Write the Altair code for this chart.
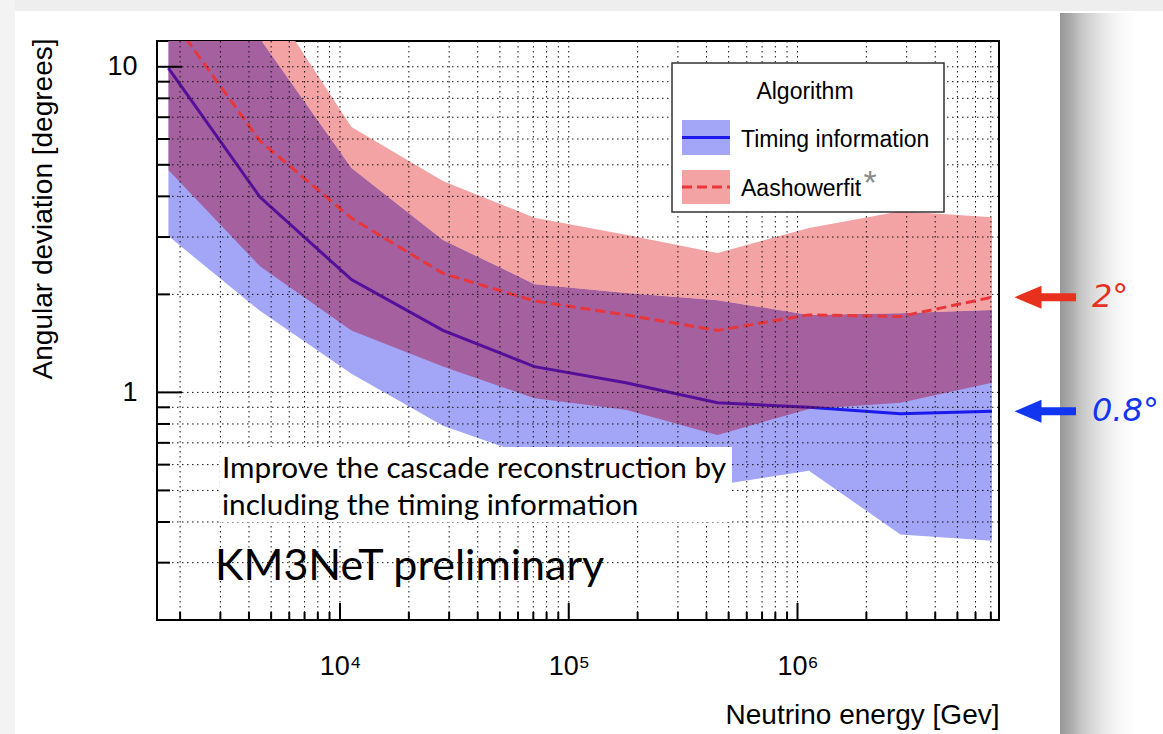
import altair as alt
import pandas as pd

# ---------------------------------------------------------------- data
energy_gev = [1778, 4467, 11220, 28180, 70790, 177800, 446700, 1122000, 2818000, 7079000]

timing_median = [9.9, 3.98, 2.22, 1.55, 1.20, 1.07, 0.93, 0.90, 0.86, 0.875]
timing_low = [3.02, 1.78, 1.14, 0.79, 0.63, 0.58, 0.52, 0.575, 0.366, 0.35]
timing_high = [25.0, 12.2, 4.89, 2.94, 2.15, 2.02, 1.92, 1.73, 1.75, 1.79]

aash_median = [14.5, 5.92, 3.43, 2.32, 1.91, 1.73, 1.55, 1.73, 1.71, 1.96]
aash_low = [4.82, 2.44, 1.55, 1.20, 0.96, 0.885, 0.74, 0.89, 0.93, 1.07]
aash_high = [35.0, 17.6, 6.53, 4.46, 3.44, 3.05, 2.68, 3.20, 3.60, 3.45]

series_names = ["Timing information", "Aashowerfit"]
legend_title = "Algorithm"

x_major_ticks = [1e4, 1e5, 1e6]
x_major_labels = ["10\u2074", "10\u2075", "10\u2076"]
x_minor_ticks = [2e3, 3e3, 4e3, 5e3, 6e3, 7e3, 8e3, 9e3,
                 2e4, 3e4, 4e4, 5e4, 6e4, 7e4, 8e4, 9e4,
                 2e5, 3e5, 4e5, 5e5, 6e5, 7e5, 8e5, 9e5,
                 2e6, 3e6, 4e6, 5e6, 6e6, 7e6]
y_major_ticks = [1, 10]
y_major_labels = ["1", "10"]
y_minor_ticks = [0.3, 0.4, 0.5, 0.6, 0.7, 0.8, 0.9, 2, 3, 4, 5, 6, 7, 8, 9]

annotation_labels = ["2\u00b0", "0.8\u00b0"]
note_lines = ["Improve the cascade reconstruction by",
              "including the timing information"]
watermark = "KM3NeT preliminary"

# ---------------------------------------------------------------- style
W, H = 842, 579
BLUE_BAND = "#a3a5f6"
BLUE_LINE = "#1a1aee"
PINK_BAND = "#f3a3a4"
OVERLAP_TINT = "#a80127"   # translucent tint: blue band + tint -> purple overlap
OVERLAP_ALPHA = 0.42
RED_LINE = "#e8363a"
SANS = "Liberation Sans"

bands = pd.DataFrame({
    "energy": energy_gev,
    "t_med": timing_median, "t_lo": timing_low, "t_hi": timing_high,
    "a_med": aash_median, "a_lo": aash_low, "a_hi": aash_high,
})

xscale = alt.Scale(type="log", domain=[1585, 7.6e6], nice=False)
yscale = alt.Scale(type="log", domain=[0.2, 12], nice=False)

label_expr_x = " : ".join(
    f"datum.value == {v} ? '{l}'" for v, l in zip(x_major_ticks, x_major_labels)
) + " : ''"
label_expr_y = " : ".join(
    f"datum.value == {v} ? '{l}'" for v, l in zip(y_major_ticks, y_major_labels)
) + " : ''"

x_axis = alt.Axis(
    title="Neutrino energy [Gev]", values=x_major_ticks, labelExpr=label_expr_x,
    grid=False, ticks=False, domain=False, labelFlush=False, labelOverlap=False,
    labelFont=SANS, labelFontSize=27, labelColor="black", labelPadding=33,
    titleFont=SANS, titleFontSize=28, titleFontWeight="normal", titleColor="black",
    titleAnchor="end", titleAlign="right", titleBaseline="alphabetic",
    titleX=W, titleY=103,
)
y_axis = alt.Axis(
    title="Angular deviation [degrees]", values=y_major_ticks, labelExpr=label_expr_y,
    grid=False, ticks=False, domain=False, labelFlush=False, labelOverlap=False,
    labelFont=SANS, labelFontSize=27, labelColor="black", labelPadding=20,
    titleFont=SANS, titleFontSize=28, titleFontWeight="normal", titleColor="black",
    titleAnchor="end", titleAlign="right", titleBaseline="alphabetic",
    titleX=-106, titleY=-3, titleAngle=270,
)


def X(field):
    return alt.X(field, type="quantitative", scale=xscale, axis=x_axis)


def Y(field):
    return alt.Y(field, type="quantitative", scale=yscale, axis=y_axis)


def one_row(**kw):
    return pd.DataFrame({k: [v] for k, v in kw.items()} or {"k": [0]})


def label(text, x, y, **style):
    return alt.Chart(one_row(t=text)).mark_text(**style).encode(
        text="t:N", x=alt.value(x), y=alt.value(y))


# ---------------------------------------------------------------- page card
card_top = alt.Chart(one_row()).mark_rect(color="#eeeeee", clip=False).encode(
    x=alt.value(-157), x2=alt.value(1006), y=alt.value(-41), y2=alt.value(-30))
card_left = alt.Chart(one_row()).mark_rect(color="#f3f3f3", clip=False).encode(
    x=alt.value(-157), x2=alt.value(-142), y=alt.value(-41), y2=alt.value(693))
shadow = alt.Chart(one_row()).mark_rect(
    clip=False,
    color=alt.Gradient(
        gradient="linear", x1=0, x2=1, y1=0, y2=0,
        stops=[alt.GradientStop(color="#979797", offset=0),
               alt.GradientStop(color="#aaaaaa", offset=0.1),
               alt.GradientStop(color="#c4c4c4", offset=0.2),
               alt.GradientStop(color="#d6d6d6", offset=0.3),
               alt.GradientStop(color="#e5e5e5", offset=0.4),
               alt.GradientStop(color="#f1f1f1", offset=0.5),
               alt.GradientStop(color="#f9f9f9", offset=0.6),
               alt.GradientStop(color="#ffffff", offset=0.75)]),
).encode(x=alt.value(903), x2=alt.value(1006), y=alt.value(-28), y2=alt.value(693))

# ---------------------------------------------------------------- bands + lines
# Timing band first, its median on top, then the Aashowerfit band in two parts:
# the part above the timing band in plain pink and the overlapping part as a
# translucent tint, so the timing median shows through it darkened.
base = alt.Chart(bands)
timing_band = base.mark_area(color=BLUE_BAND, opacity=1, clip=True).encode(
    x=X("energy"), y=Y("t_lo"), y2="t_hi")
timing_line = base.mark_line(color=BLUE_LINE, strokeWidth=3, clip=True).encode(
    x=X("energy"), y=Y("t_med"))
aash_upper = base.mark_area(color=PINK_BAND, opacity=1, clip=True).encode(
    x=X("energy"), y=Y("t_hi"), y2="a_hi")
aash_overlap = base.mark_area(color=OVERLAP_TINT, opacity=OVERLAP_ALPHA, clip=True).encode(
    x=X("energy"), y=Y("a_lo"), y2="t_hi")
aash_line = base.mark_line(color=RED_LINE, strokeWidth=3, strokeDash=[10, 5],
                           clip=True).encode(x=X("energy"), y=Y("a_med"))

# ---------------------------------------------------------------- grid and ticks
grid_dash = [1.5, 3.5]
xgrid = alt.Chart(pd.DataFrame({"g": x_minor_ticks + x_major_ticks})).mark_rule(
    color="#111111", strokeWidth=1, strokeDash=grid_dash).encode(
    x=X("g"), y=alt.value(0), y2=alt.value(H))
ygrid = alt.Chart(pd.DataFrame({"g": y_minor_ticks + y_major_ticks})).mark_rule(
    color="#111111", strokeWidth=1, strokeDash=grid_dash).encode(
    y=Y("g"), x=alt.value(0), x2=alt.value(W))

xtick_major = alt.Chart(pd.DataFrame({"t": x_major_ticks})).mark_rule(
    color="black", strokeWidth=2).encode(x=X("t"), y=alt.value(H), y2=alt.value(H - 17))
xtick_minor = alt.Chart(pd.DataFrame({"t": x_minor_ticks})).mark_rule(
    color="black", strokeWidth=2).encode(x=X("t"), y=alt.value(H), y2=alt.value(H - 8))
ytick_major = alt.Chart(pd.DataFrame({"t": y_major_ticks})).mark_rule(
    color="black", strokeWidth=2).encode(y=Y("t"), x=alt.value(0), x2=alt.value(25))
ytick_minor = alt.Chart(pd.DataFrame({"t": y_minor_ticks})).mark_rule(
    color="black", strokeWidth=2).encode(y=Y("t"), x=alt.value(0), x2=alt.value(13))

# ---------------------------------------------------------------- legend box
LX0, LX1, LY0, LY1 = 515, 787, 22, 171
leg_style = dict(font=SANS, fontSize=23, color="black", baseline="middle")
leg_box = alt.Chart(one_row()).mark_rect(fill="white", stroke="#333333", strokeWidth=1.5).encode(
    x=alt.value(LX0), x2=alt.value(LX1), y=alt.value(LY0), y2=alt.value(LY1))
leg_title = label(legend_title, (LX0 + LX1) / 2 - 3, LY0 + 29, align="center", **leg_style)
sw_blue = alt.Chart(one_row()).mark_rect(color=BLUE_BAND).encode(
    x=alt.value(525), x2=alt.value(573), y=alt.value(79), y2=alt.value(114))
sw_blue_line = alt.Chart(one_row()).mark_rule(color=BLUE_LINE, strokeWidth=3).encode(
    x=alt.value(525), x2=alt.value(573), y=alt.value(96.5))
sw_red = alt.Chart(one_row()).mark_rect(color=PINK_BAND).encode(
    x=alt.value(525), x2=alt.value(573), y=alt.value(129), y2=alt.value(163))
sw_red_line = alt.Chart(one_row()).mark_rule(color=RED_LINE, strokeWidth=3,
                                              strokeDash=[10, 5]).encode(
    x=alt.value(525), x2=alt.value(573), y=alt.value(146))
leg_text_0 = label(series_names[0], 584, 99, align="left", **leg_style)
leg_text_1 = label(series_names[1], 584, 148, align="left", **leg_style)
leg_star = label("*", 713, 143, font=SANS, fontSize=34, color="#8a8a8a",
                 align="center", baseline="middle")

# ---------------------------------------------------------------- note + watermark
note_style = dict(font="Lato", fontSize=29.7, color="black", align="left", baseline="alphabetic")
note_box = alt.Chart(one_row()).mark_rect(fill="white").encode(
    x=alt.value(63), x2=alt.value(575), y=alt.value(406), y2=alt.value(481))
note_0 = label(note_lines[0], 65, 437, **note_style)
note_1 = label(note_lines[1], 65, 474, **note_style)
wm_text = label(watermark, 58, 539, font="Lato", fontSize=43, color="black",
                align="left", baseline="alphabetic")

# ---------------------------------------------------------------- end-point arrows
ends = pd.DataFrame({
    "val": [aash_median[-1], timing_median[-1]],
    "col": ["#e8301e", "#1236f0"],
    "lab": annotation_labels,
})
arrow_shaft = alt.Chart(ends).mark_rule(strokeWidth=8, strokeCap="butt", clip=False).encode(
    y=Y("val"), x=alt.value(880), x2=alt.value(919), color=alt.Color("col:N", scale=None))
arrow_head = alt.Chart(ends).mark_point(
    shape="M -1 0 L 1 -0.85 L 1 0.85 Z", size=729, filled=True, opacity=1, clip=False).encode(
    y=Y("val"), x=alt.value(871), color=alt.Color("col:N", scale=None))
arrow_text = alt.Chart(ends).mark_text(
    font="DejaVu Sans", fontSize=32, fontStyle="italic", fontWeight=200,
    align="left", baseline="middle", clip=False).encode(
    y=Y("val"), x=alt.value(935), text="lab:N", color=alt.Color("col:N", scale=None))

chart = alt.layer(
    card_top, card_left, shadow,
    timing_band, timing_line, aash_upper, aash_overlap, aash_line,
    xgrid, ygrid, xtick_major, xtick_minor, ytick_major, ytick_minor,
    leg_box, leg_title, sw_blue, sw_blue_line, sw_red, sw_red_line,
    leg_text_0, leg_text_1, leg_star,
    note_box, note_0, note_1, wm_text,
    arrow_shaft, arrow_head, arrow_text,
).properties(
    width=W, height=H,
    autosize=alt.AutoSizeParams(type="none"),
    padding={"left": 157, "top": 41, "right": 164, "bottom": 114},
    background="white",
).configure_view(stroke="black", strokeWidth=2, fill="white")

chart.save("out.html", embed_options={"renderer": "svg", "actions": False})
